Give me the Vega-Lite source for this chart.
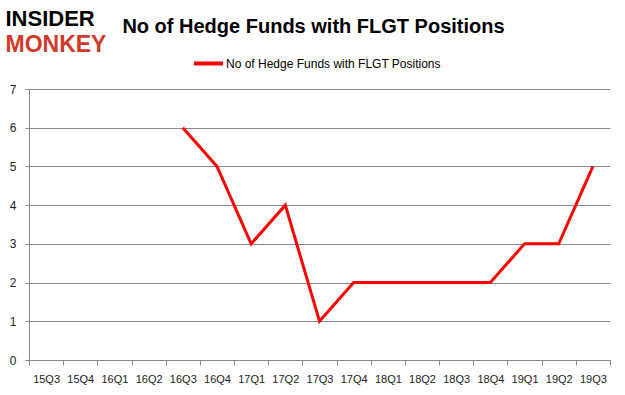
{
  "$schema": "https://vega.github.io/schema/vega-lite/v6.json",
  "autosize": {"type": "none"},
  "width": 581,
  "height": 271,
  "padding": {"left": 29, "top": 89, "right": 15, "bottom": 35},
  "background": "white",
  "title": {
    "text": "No of Hedge Funds with FLGT Positions",
    "font": "Liberation Sans",
    "fontSize": 20,
    "fontWeight": "bold",
    "color": "#000000",
    "anchor": "middle",
    "frame": "group",
    "dx": -6,
    "offset": -30
  },
  "data": {
    "values": [
      {"quarter": "15Q3", "funds": null},
      {"quarter": "15Q4", "funds": null},
      {"quarter": "16Q1", "funds": null},
      {"quarter": "16Q2", "funds": null},
      {"quarter": "16Q3", "funds": 6},
      {"quarter": "16Q4", "funds": 5},
      {"quarter": "17Q1", "funds": 3},
      {"quarter": "17Q2", "funds": 4},
      {"quarter": "17Q3", "funds": 1},
      {"quarter": "17Q4", "funds": 2},
      {"quarter": "18Q1", "funds": 2},
      {"quarter": "18Q2", "funds": 2},
      {"quarter": "18Q3", "funds": 2},
      {"quarter": "18Q4", "funds": 2},
      {"quarter": "19Q1", "funds": 3},
      {"quarter": "19Q2", "funds": 3},
      {"quarter": "19Q3", "funds": 5}
    ]
  },
  "mark": {"type": "line", "color": "#ff0000", "strokeWidth": 3},
  "encoding": {
    "x": {
      "field": "quarter",
      "type": "nominal",
      "bandPosition": 0.5,
      "scale": {
        "type": "band",
        "paddingInner": 0,
        "paddingOuter": 0,
        "domain": ["15Q3","15Q4","16Q1","16Q2","16Q3","16Q4","17Q1","17Q2","17Q3","17Q4","18Q1","18Q2","18Q3","18Q4","19Q1","19Q2","19Q3"]
      },
      "axis": {
        "title": "MONKEY",
        "titleColor": "#cf3a2b",
        "titleFont": "Liberation Sans",
        "titleFontSize": 23,
        "titleFontWeight": "bold",
        "titleAlign": "left",
        "titleBaseline": "alphabetic",
        "titleAnchor": "start",
        "titleX": -24,
        "titleY": -309,
        "labelAngle": 0,
        "labelFont": "Liberation Sans",
        "labelFontSize": 11,
        "labelColor": "#222222",
        "labelPadding": 8,
        "tickBand": "extent",
        "tickSize": 5,
        "tickColor": "#888888",
        "domainColor": "#888888",
        "grid": false
      }
    },
    "y": {
      "field": "funds",
      "type": "quantitative",
      "scale": {"domain": [0, 7], "nice": false},
      "axis": {
        "title": "INSIDER",
        "titleColor": "#000000",
        "titleFont": "Liberation Sans",
        "titleFontSize": 22,
        "titleFontWeight": "bold",
        "titleAngle": 0,
        "titleAlign": "left",
        "titleBaseline": "alphabetic",
        "titleX": -24,
        "titleY": -64,
        "values": [0, 1, 2, 3, 4, 5, 6, 7],
        "labelFont": "Liberation Sans",
        "labelFontSize": 12,
        "labelColor": "#222222",
        "labelPadding": 9,
        "tickSize": 4,
        "tickColor": "#888888",
        "domainColor": "#888888",
        "grid": true,
        "gridColor": "#888888",
        "gridWidth": 1
      }
    },
    "color": {
      "datum": "No of Hedge Funds with FLGT Positions",
      "type": "nominal",
      "scale": {"range": ["#ff0000"]},
      "legend": {
        "title": null,
        "orient": "none",
        "legendX": 163,
        "legendY": -42,
        "symbolType": "stroke",
        "symbolStrokeWidth": 4,
        "symbolSize": 841,
        "labelFont": "Liberation Sans",
        "labelFontSize": 12,
        "labelLimit": 0,
        "labelColor": "#000000",
        "labelOffset": 1
      }
    }
  },
  "config": {"view": {"stroke": null}}
}
